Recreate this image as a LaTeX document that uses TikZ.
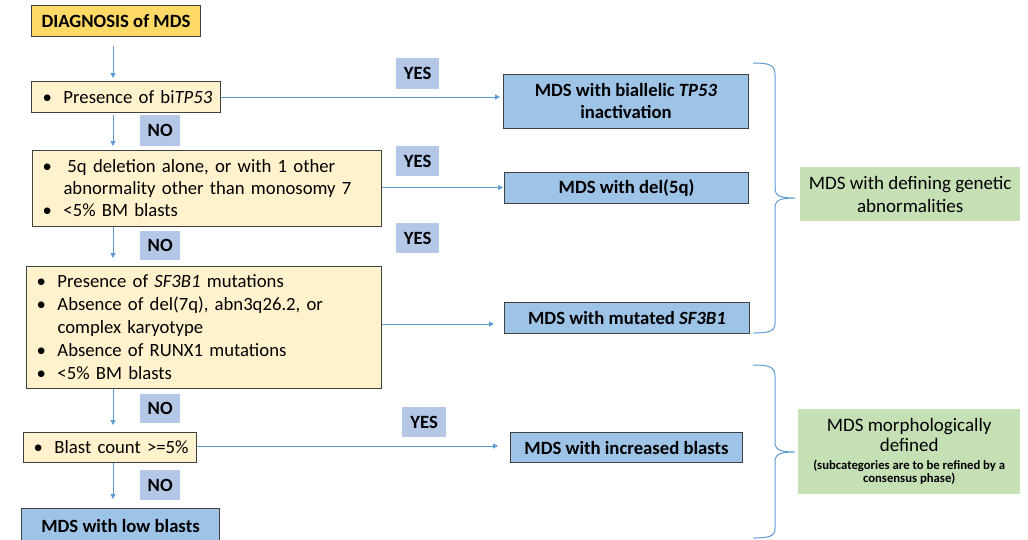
\documentclass[tikz,border=0pt]{standalone}
\usepackage{fontspec}
\setmainfont{Carlito}
\usetikzlibrary{arrows.meta}
\definecolor{gold}{HTML}{FFD966}
\definecolor{lightyellow}{HTML}{FFF2CC}
\definecolor{resultblue}{HTML}{9DC3E6}
\definecolor{labelblue}{HTML}{B4C7E7}
\definecolor{greenbox}{HTML}{C5E0B4}
\definecolor{bordergray}{HTML}{404040}
\definecolor{arrowblue}{HTML}{5B9BD5}
\newcommand\bl{\makebox[21pt][l]{•}}
\newcommand\ind{\hspace*{21pt}}
\begin{document}
\begin{tikzpicture}[x=1pt,y=-1pt,
  every node/.style={font=\fontsize{18.7}{22}\selectfont, inner sep=0pt},
  ybox/.style={draw=bordergray, line width=1pt, fill=lightyellow, anchor=north west, align=left, inner xsep=10pt},
  rbox/.style={draw=bordergray, line width=1pt, fill=resultblue, anchor=north west, align=center, font=\bfseries\fontsize{18.7}{22}\selectfont},
  lab/.style={fill=labelblue, anchor=north west, font=\bfseries\fontsize{18.7}{22}\selectfont},
  gbox/.style={fill=greenbox, anchor=north west, align=center},
  arr/.style={draw=arrowblue, line width=1pt, -{Triangle[length=5pt,width=5pt]}},
  brace/.style={draw=arrowblue, line width=1pt}
]
\useasboundingbox (0,0) rectangle (1028,539);
\fill[white] (0,0) rectangle (1028,539);

% left column
\node[draw=bordergray, line width=1pt, fill=gold, anchor=north west, minimum width=169pt, minimum height=31pt, font=\bfseries\fontsize{18.7}{22}\selectfont] (diag) at (31,5) {DIAGNOSIS of MDS};
\node[ybox, inner xsep=11pt, text width=167pt, minimum height=31pt] (p1) at (31,81) {\mbox{\bl Presence of bi\textit{TP53}}};
\node[ybox, text width=329pt, minimum height=76pt] (p2) at (32,150) {\mbox{\bl\hspace*{4pt}5q deletion alone, or with 1 other}\\\mbox{\ind abnormality other than monosomy 7}\\\mbox{\bl <5\% BM blasts}};
\node[ybox, text width=335pt, minimum height=122pt, font=\fontsize{18.7}{23}\selectfont] (p3) at (26,266) {\mbox{\bl Presence of \textit{SF3B1} mutations}\\\mbox{\bl Absence of del(7q), abn3q26.2, or}\\\mbox{\ind complex karyotype}\\\mbox{\bl Absence of RUNX1 mutations}\\\mbox{\bl <5\% BM blasts}};
\node[ybox, text width=153pt, minimum height=30pt] (p4) at (23,432) {\mbox{\bl Blast count >=5\%}};
\node[rbox, minimum width=198pt, minimum height=34pt] (low) at (21,508) {MDS with low blasts};

% NO labels
\node[lab, minimum width=40pt, minimum height=31pt] (no1) at (140,115) {NO};
\node[lab, minimum width=40pt, minimum height=29pt] (no2) at (140,231) {NO};
\node[lab, minimum width=40pt, minimum height=29pt] (no3) at (140,394) {NO};
\node[lab, minimum width=40pt, minimum height=30pt] (no4) at (140,470) {NO};

% YES labels
\node[lab, minimum width=43pt, minimum height=31pt] (yes1) at (396,58) {YES};
\node[lab, minimum width=43pt, minimum height=30pt] (yes2) at (396,146) {YES};
\node[lab, minimum width=43pt, minimum height=30pt] (yes3) at (396,223) {YES};
\node[lab, minimum width=44pt, minimum height=30pt] (yes4) at (402,407) {YES};

% result boxes
\node[rbox, minimum width=245pt, minimum height=54pt] (r1) at (503,74) {MDS with biallelic \textit{TP53}\\inactivation};
\node[rbox, minimum width=244pt, minimum height=31pt] (r2) at (504,172) {MDS with del(5q)};
\node[rbox, minimum width=245pt, minimum height=31pt] (r3) at (504,302) {MDS with mutated \textit{SF3B1}};
\node[rbox, minimum width=232pt, minimum height=30pt] (r4) at (510,432) {MDS with increased blasts};

% green boxes
\node[gbox, minimum width=220pt, minimum height=54pt, font=\fontsize{19}{23}\selectfont] (g1) at (800,167) {MDS with defining genetic\\abnormalities};
\node[gbox, minimum width=222pt, minimum height=85pt, font=\fontsize{19}{20}\selectfont] (g2) at (798,409) {MDS morphologically\\defined\\[-2pt]{\bfseries\fontsize{12.7}{14}\selectfont (subcategories are to be refined by a}\\[-7pt]{\bfseries\fontsize{12.7}{14}\selectfont consensus phase)}};

% vertical arrows
\coordinate (vx) at (113,0);
\draw[arr, shorten <=9pt, shorten >=3pt] (diag.south -| vx) -- (p1.north -| vx);
\draw[arr, shorten <=2pt, shorten >=4pt] (p1.south -| vx) -- (p2.north -| vx);
\draw[arr, shorten >=8pt] (p2.south -| vx) -- (p3.north -| vx);
\draw[arr, shorten >=7pt] (p3.south -| vx) -- (p4.north -| vx);
\draw[arr, shorten >=9pt] (p4.south -| vx) -- (low.north -| vx);

% horizontal arrows
\draw[arr, shorten >=3pt] (p1.east) -- (p1.east -| r1.west);
\draw[arr, shorten >=1pt] (p2.east) ++(0,-1) coordinate (h2) -- (h2 -| r2.west);
\coordinate (h3) at (p3.east |- 0,324);
\draw[arr, shorten >=10pt] (h3) -- (h3 -| r3.west);
\coordinate (h4) at (p4.east |- 0,446);
\draw[arr, shorten >=12pt] (h4) -- (h4 -| r4.west);

% braces
\draw[brace] (753,63) .. controls (770,63) and (775,65) .. (775,75) -- (775,188) .. controls (775,196) and (780,198) .. (795,198)
  .. controls (780,198) and (775,200) .. (775,208) -- (775,323) .. controls (775,331) and (770,333) .. (753,333);
\draw[brace] (753,365) .. controls (770,365) and (775,367) .. (775,377) -- (775,442) .. controls (775,450) and (780,452) .. (795,452)
  .. controls (780,452) and (775,454) .. (775,462) -- (775,528) .. controls (775,536) and (770,538) .. (753,538);
\end{tikzpicture}
\end{document}
